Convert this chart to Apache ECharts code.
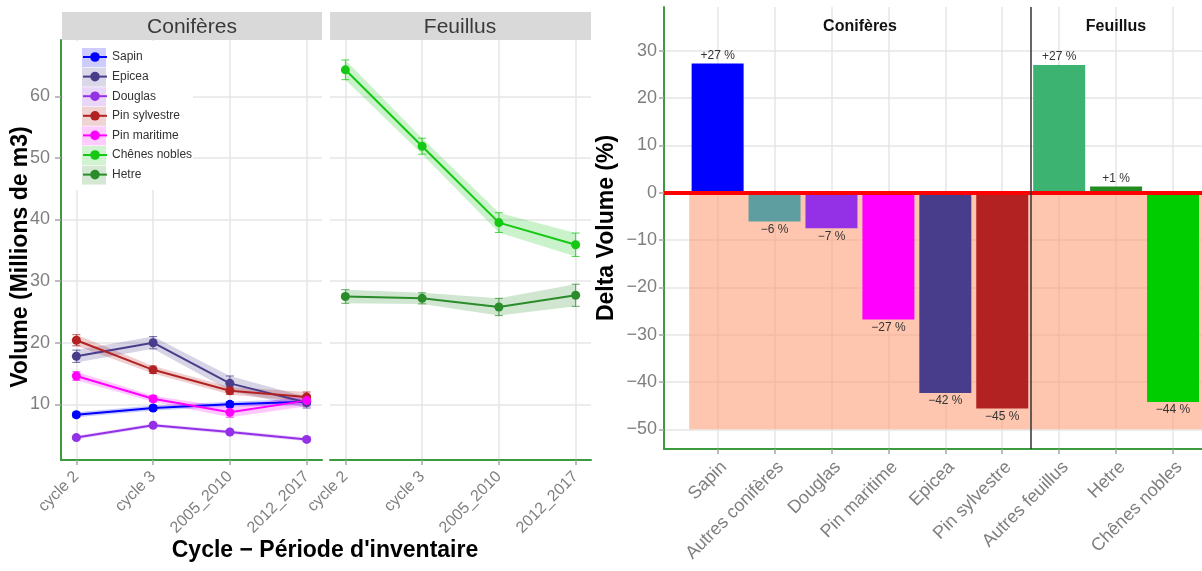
<!DOCTYPE html>
<html><head><meta charset="utf-8">
<script src="https://cdn.jsdelivr.net/npm/echarts@6/dist/echarts.min.js"></script>
<style>html,body{margin:0;padding:0;background:#fff}#c{width:1202px;height:571px}</style>
</head><body><div id="c"></div>
<script>
// ---------- DATA ----------
const cycles = ['cycle 2', 'cycle 3', '2005_2010', '2012_2017'];
const volumeTicks = [10, 20, 30, 40, 50, 60];
const sapin = [8.3, 9.4, 10.0, 10.4];
const epicea = [17.8, 20.0, 13.4, 10.3];
const douglas = [4.6, 6.6, 5.5, 4.3];
const pinSylvestre = [20.4, 15.6, 12.2, 11.2];
const pinMaritime = [14.6, 10.9, 8.7, 10.6];
const chenesNobles = [64.3, 51.9, 39.5, 35.9];
const hetre = [27.5, 27.2, 25.8, 27.7];
// half-width of the confidence intervals (ribbons / error bars)
const sapinErr = [0.4, 0.4, 0.4, 0.5];
const epiceaErr = [1.0, 1.0, 1.2, 0.9];
const douglasErr = [0.3, 0.3, 0.3, 0.3];
const pinSylvestreErr = [0.9, 0.6, 0.6, 0.8];
const pinMaritimeErr = [0.7, 0.5, 0.8, 0.9];
const chenesNoblesErr = [1.6, 1.3, 1.6, 1.9];
const hetreErr = [1.1, 0.9, 1.4, 1.8];

const deltaCategories = ['Sapin', 'Autres conifères', 'Douglas', 'Pin maritime', 'Epicea', 'Pin sylvestre', 'Autres feuillus', 'Hetre', 'Chênes nobles'];
const deltaValues = [27.3, -6.1, -7.5, -26.8, -42.3, -45.6, 27.0, 1.3, -44.2];
const deltaLabels = ['+27 %', '−6 %', '−7 %', '−27 %', '−42 %', '−45 %', '+27 %', '+1 %', '−44 %'];
const deltaTicks = [-50, -40, -30, -20, -10, 0, 10, 20, 30];
const negativeZone = [-0.5, 9, -50, 0]; // x from, x to, y from, y to
const groupSeparator = 5.5;

// ---------- STYLE ----------
const FONT = '"Liberation Sans", Arial, Helvetica, sans-serif';
const AXIS_GREEN = '#3c9b3c';
const GRID_LINE = '#e6e6e6';
const TICK_GREY = '#a6a6a6';
const LABEL_GREY = '#7f7f7f';

const C = {
  Sapin: '#0000FF', Epicea: '#483D8B', Douglas: '#9430E6', 'Pin sylvestre': '#B22222',
  'Pin maritime': '#FF00FF', 'Chênes nobles': '#14C814', Hetre: '#2A8C2A',
  'Autres conifères': '#5F9EA0', 'Autres feuillus': '#3CB371'
};
const barColors = Object.assign({}, C, { 'Chênes nobles': '#00CD00', Hetre: '#228B22' });

const lineDefs = [
  { name: 'Sapin', values: sapin, err: sapinErr, panel: 0 },
  { name: 'Epicea', values: epicea, err: epiceaErr, panel: 0 },
  { name: 'Douglas', values: douglas, err: douglasErr, panel: 0 },
  { name: 'Pin sylvestre', values: pinSylvestre, err: pinSylvestreErr, panel: 0 },
  { name: 'Pin maritime', values: pinMaritime, err: pinMaritimeErr, panel: 0 },
  { name: 'Chênes nobles', values: chenesNobles, err: chenesNoblesErr, panel: 1 },
  { name: 'Hetre', values: hetre, err: hetreErr, panel: 1 }
];

const cycleIdx = cycles.map((_, i) => i);
const deltaIdx = deltaCategories.map((_, i) => i);

function xVolume(g) {
  return {
    type: 'value', gridIndex: g, min: -0.2, max: 3.2,
    axisLine: { show: true, onZero: false, lineStyle: { color: AXIS_GREEN, width: 2 } },
    axisTick: { show: true, customValues: cycleIdx, length: 5, lineStyle: { color: TICK_GREY, width: 1.5 } },
    axisLabel: { customValues: cycleIdx, rotate: 45, padding: [6, 0, 0, 0], formatter: v => cycles[Math.round(v)], color: LABEL_GREY, fontSize: 16, fontFamily: FONT, margin: 14 },
    splitLine: { show: true, lineStyle: { color: GRID_LINE, width: 1.5 } }
  };
}
function yVolume(g) {
  const first = g === 0;
  return {
    type: 'value', gridIndex: g, min: 0.96, max: 69.14,
    axisLine: { show: first, onZero: false, lineStyle: { color: AXIS_GREEN, width: 2 } },
    axisTick: { show: first, customValues: volumeTicks, length: 6, lineStyle: { color: TICK_GREY, width: 1.5 } },
    axisLabel: { show: first, customValues: volumeTicks, color: LABEL_GREY, fontSize: 18, fontFamily: FONT, margin: 11 },
    splitLine: { show: true, lineStyle: { color: GRID_LINE, width: 1.5 } }
  };
}

const series = [];
lineDefs.forEach(d => {
  const color = C[d.name];
  const lo = d.values.map((v, i) => v - d.err[i]);
  const hi = d.values.map((v, i) => v + d.err[i]);
  series.push({
    type: 'custom', name: d.name + ' IC', xAxisIndex: d.panel, yAxisIndex: d.panel, z: 2, silent: true,
    data: d.values.map((v, i) => [i, lo[i], hi[i]]),
    encode: { x: 0, y: [1, 2] },
    renderItem(params, api) {
      const i = params.dataIndex;
      const children = [];
      if (i === 0) {
        const pts = [];
        for (let k = 0; k < lo.length; k++) pts.push(api.coord([k, hi[k]]));
        for (let k = lo.length - 1; k >= 0; k--) pts.push(api.coord([k, lo[k]]));
        children.push({ type: 'polygon', shape: { points: pts }, style: { fill: color, opacity: 0.22 } });
      }
      const t = api.coord([i, hi[i]]), b = api.coord([i, lo[i]]);
      const st = { stroke: color, lineWidth: 1, opacity: 0.75 };
      children.push({ type: 'line', shape: { x1: t[0], y1: t[1], x2: b[0], y2: b[1] }, style: st });
      children.push({ type: 'line', shape: { x1: t[0] - 4, y1: t[1], x2: t[0] + 4, y2: t[1] }, style: st });
      children.push({ type: 'line', shape: { x1: b[0] - 4, y1: b[1], x2: b[0] + 4, y2: b[1] }, style: st });
      return { type: 'group', children };
    }
  });
  series.push({
    type: 'line', name: d.name, xAxisIndex: d.panel, yAxisIndex: d.panel, z: 4, silent: true,
    data: d.values.map((v, i) => [i, v]),
    symbol: 'circle', symbolSize: 9,
    lineStyle: { width: 2, color }, itemStyle: { color }
  });
});

// Right chart
series.push({
  type: 'custom', name: 'zone', xAxisIndex: 2, yAxisIndex: 2, z: 1, silent: true, clip: true,
  data: [negativeZone], encode: { x: [0, 1], y: [2, 3] },
  renderItem(params, api) {
    const a = api.coord([api.value(0), api.value(3)]);
    const b = api.coord([api.value(1), api.value(2)]);
    return { type: 'rect', shape: { x: a[0], y: a[1], width: b[0] - a[0], height: b[1] - a[1] }, style: { fill: 'rgba(255,160,122,0.6)' } };
  }
});
series.push({
  type: 'bar', name: 'delta', xAxisIndex: 2, yAxisIndex: 2, barWidth: 52, z: 3, silent: true,
  data: deltaValues.map((v, i) => ({
    value: [i, v], itemStyle: { color: barColors[deltaCategories[i]] },
    label: { position: v >= 0 ? 'top' : 'bottom' }
  })),
  label: { show: true, formatter: p => deltaLabels[p.dataIndex], fontSize: 12, color: '#333', fontFamily: FONT, distance: 2 },
  markLine: {
    silent: true, symbol: 'none', label: { show: false }, animation: false,
    data: [
      { yAxis: 0, lineStyle: { color: '#FF0000', width: 4, type: 'solid' } },
      { xAxis: groupSeparator, lineStyle: { color: '#333', width: 1.5, type: 'solid' } }
    ]
  }
});

const legendNames = lineDefs.map(d => d.name);
const graphics = [
  { type: 'rect', shape: { x: 62, y: 12, width: 260, height: 28 }, style: { fill: '#d9d9d9' }, z: 0 },
  { type: 'rect', shape: { x: 330, y: 12, width: 261, height: 28 }, style: { fill: '#d9d9d9' }, z: 0 },
  { type: 'text', x: 192, y: 27, style: { text: 'Conifères', font: '21px ' + FONT, fill: '#3a3a3a', align: 'center', verticalAlign: 'middle' }, z: 5 },
  { type: 'text', x: 460, y: 27, style: { text: 'Feuillus', font: '21px ' + FONT, fill: '#3a3a3a', align: 'center', verticalAlign: 'middle' }, z: 5 },
  { type: 'rect', shape: { x: 63, y: 41, width: 130, height: 149 }, style: { fill: '#fff' }, z: 3 },
  { type: 'text', x: 325, y: 551, style: { text: 'Cycle − Période d\'inventaire', font: 'bold 23px ' + FONT, fill: '#000', align: 'center', verticalAlign: 'middle' }, z: 5 },
  { type: 'text', x: 21, y: 257, rotation: Math.PI / 2, style: { text: 'Volume (Millions de m3)', font: 'bold 23px ' + FONT, fill: '#000', align: 'center', verticalAlign: 'middle' }, z: 5 },
  { type: 'text', x: 860, y: 27, style: { text: 'Conifères', font: 'bold 16px ' + FONT, fill: '#111', align: 'center', verticalAlign: 'middle' }, z: 5 },
  { type: 'text', x: 1116, y: 27, style: { text: 'Feuillus', font: 'bold 16px ' + FONT, fill: '#111', align: 'center', verticalAlign: 'middle' }, z: 5 }
];
legendNames.forEach((n, i) => {
  graphics.push({ type: 'rect', shape: { x: 82, y: 48 + 19.6 * i, width: 24, height: 19 }, style: { fill: C[n], opacity: 0.2 }, z: 3 });
});

const option = {
  animation: false,
  backgroundColor: '#fff',
  textStyle: { fontFamily: FONT },
  grid: [
    { left: 61, top: 40, width: 261, height: 420, outerBoundsMode: 'none', containLabel: false },
    { left: 330, top: 40, width: 261, height: 420, outerBoundsMode: 'none', containLabel: false },
    { left: 664, top: 7, right: 0, height: 442, outerBoundsMode: 'none', containLabel: false }
  ],
  xAxis: [
    xVolume(0), xVolume(1),
    {
      type: 'value', gridIndex: 2, min: -0.942, max: 8.509,
      axisLine: { show: true, onZero: false, lineStyle: { color: AXIS_GREEN, width: 2 } },
      axisTick: { show: true, customValues: deltaIdx, length: 5, lineStyle: { color: TICK_GREY, width: 1.5 } },
      axisLabel: { customValues: deltaIdx, rotate: 45, verticalAlign: 'top', formatter: v => deltaCategories[Math.round(v)], color: LABEL_GREY, fontSize: 18, fontFamily: FONT, margin: 9 },
      splitLine: { show: true, lineStyle: { color: GRID_LINE, width: 1.5 } }
    }
  ],
  yAxis: [
    yVolume(0), yVolume(1),
    {
      type: 'value', gridIndex: 2, min: -54.15, max: 39.23,
      axisLine: { show: true, onZero: false, lineStyle: { color: AXIS_GREEN, width: 2 } },
      axisTick: { show: true, customValues: deltaTicks, length: 5, lineStyle: { color: TICK_GREY, width: 1.5 } },
      axisLabel: { customValues: deltaTicks, color: LABEL_GREY, fontSize: 18, fontFamily: FONT, margin: 7, formatter: v => (v < 0 ? '−' + Math.abs(v) : String(v)) },
      splitLine: { show: true, lineStyle: { color: GRID_LINE, width: 1.5 } },
      name: 'Delta Volume (%)', nameLocation: 'middle', nameGap: 46,
      nameTextStyle: { fontSize: 23, fontWeight: 'bold', color: '#000', fontFamily: FONT }
    }
  ],
  legend: {
    data: legendNames, orient: 'vertical', left: 82, top: 51, padding: 0,
    itemWidth: 24, itemHeight: 12, itemGap: 7.6, selectedMode: false, z: 6,
    textStyle: { fontSize: 12, color: '#333', fontFamily: FONT }
  },
  graphic: graphics,
  series
};
const chart = echarts.init(document.getElementById('c'));
chart.setOption(option);
</script></body></html>
